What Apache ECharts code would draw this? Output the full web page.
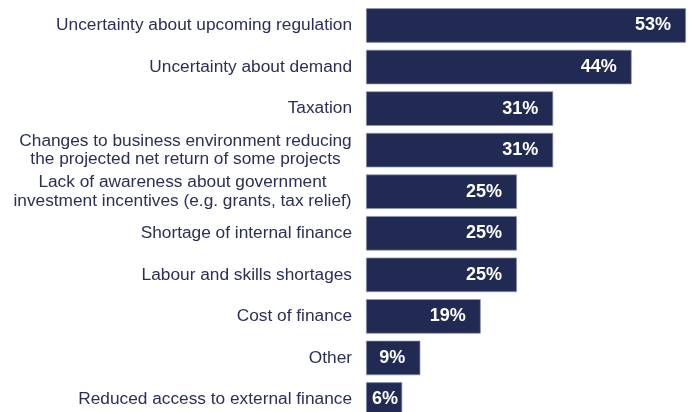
<!DOCTYPE html>
<html>
<head>
<meta charset="utf-8">
<script src="https://cdn.jsdelivr.net/npm/echarts@6/dist/echarts.min.js"></script>
<style>
  html, body { margin: 0; padding: 0; background: #ffffff; }
  #chart { width: 693px; height: 412px; }
</style>
</head>
<body>
<div id="chart"></div>
<script>
// Barriers to investment, share of respondents (%)
const categories = [
  'Uncertainty about upcoming regulation',
  'Uncertainty about demand',
  'Taxation',
  'Changes to business environment reducing\nthe projected net return of some projects',
  'Lack of awareness about government\ninvestment incentives (e.g. grants, tax relief)',
  'Shortage of internal finance',
  'Labour and skills shortages',
  'Cost of finance',
  'Other',
  'Reduced access to external finance'
];
const values = [53, 44, 31, 31, 25, 25, 25, 19, 9, 6];

const NAVY = '#212a53';
const TEXT = '#2a2f58';
const FONT_FAMILY = 'Arial, "Liberation Sans", sans-serif';
const CAT_SIZE = 17.3;

// measure a line so multi-line labels can be centred on their widest line
const ctx = document.createElement('canvas').getContext('2d');
ctx.font = CAT_SIZE + 'px ' + FONT_FAMILY;
const rich = {};
const formatted = categories.map((c, i) => {
  const lines = c.split('\n');
  if (lines.length === 1) return c;
  const w = Math.ceil(Math.max(...lines.map(l => ctx.measureText(l).width)));
  const key = 'm' + i;
  rich[key] = { width: w, align: 'center', fontSize: CAT_SIZE, lineHeight: 18.5, color: TEXT,
                fontFamily: FONT_FAMILY };
  return lines.map(l => '{' + key + '|' + l + '}').join('\n');
});

const seriesData = values.map(v => {
  const item = { value: v };
  if (v < 8) item.label = { position: 'insideLeft', distance: 6 };
  return item;
});

const chart = echarts.init(document.getElementById('chart'), null, { renderer: 'canvas' });
chart.setOption({
  animation: false,
  backgroundColor: '#ffffff',
  // the last row runs past the bottom edge, so the plot area is allowed to overflow
  grid: { left: 366, width: 320, top: 4.7, height: 415.6, containLabel: false, outerBoundsMode: 'none' },
  xAxis: {
    type: 'value', min: 0, max: 53,
    show: false
  },
  yAxis: {
    type: 'category',
    inverse: true,
    data: categories,
    axisLine: { show: false },
    axisTick: { show: false },
    splitLine: { show: false },
    axisLabel: {
      margin: 14,
      color: TEXT,
      fontSize: CAT_SIZE,
      fontFamily: FONT_FAMILY,
      lineHeight: 18.5,
      formatter: (val, idx) => formatted[idx],
      rich: rich
    }
  },
  series: [{
    type: 'bar',
    data: seriesData,
    barWidth: 34.5,
    itemStyle: { color: NAVY, borderColor: '#8f98b6', borderWidth: 0.7 },
    label: {
      show: true,
      position: 'insideRight',
      distance: 15,
      color: '#ffffff',
      fontWeight: 'bold',
      fontSize: 18,
      fontFamily: FONT_FAMILY,
      formatter: p => p.value + '%'
    }
  }]
});
</script>
</body>
</html>
